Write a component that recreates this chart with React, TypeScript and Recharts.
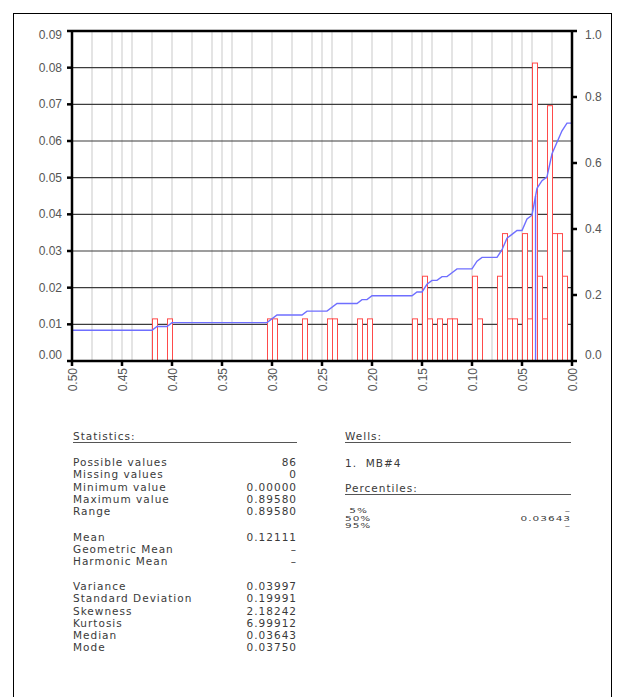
import React from 'react';
import { ComposedChart, Bar, Line, XAxis, YAxis, CartesianGrid, ReferenceLine } from 'recharts';

const POSSIBLE_VALUES = 86;
const MEDIAN = 0.03643;
const BIN_WIDTH = 0.005;

// non-empty histogram bins (lower edge) and their sample counts
const binLows = [
    0.415, 0.4, 0.3, 0.295, 0.265, 0.24, 0.235, 0.21, 0.2,
    0.155, 0.145, 0.14, 0.13, 0.12, 0.115,
    0.095, 0.09,
    0.07, 0.065, 0.06, 0.055,
    0.045, 0.04, 0.035, 0.03, 0.025, 0.02, 0.015, 0.01, 0.005,
];
const binCounts = [
    1, 1, 1, 1, 1, 1, 1, 1, 1,
    1, 2, 1, 1, 1, 1,
    2, 1,
    2, 3, 1, 1,
    3, 1, 7, 2, 1, 6, 3, 3, 2,
];

// cumulative curve: number of samples at or above each bin edge
const cumEdges = [
    0.5, 0.42, 0.415, 0.405, 0.4, 0.305, 0.295, 0.27, 0.265, 0.245, 0.235, 0.215, 0.21, 0.205, 0.2,
    0.16, 0.155, 0.15, 0.145, 0.14, 0.135, 0.13, 0.125, 0.12, 0.115, 0.1, 0.095, 0.09, 0.075, 0.07,
    0.065, 0.06, 0.055, 0.05, 0.045, 0.04, 0.035, 0.03, 0.025, 0.02, 0.015, 0.01, 0.005, 0,
];
const cumCounts = [
    8, 8, 9, 9, 10, 10, 12, 12, 13, 13, 15, 15, 16, 16, 17,
    17, 18, 18, 20, 21, 21, 22, 22, 23, 24, 24, 26, 27, 27, 29,
    32, 33, 34, 34, 37, 38, 45, 47, 48, 54, 57, 60, 62, 62,
];

const xTicks = [0, 0.05, 0.1, 0.15, 0.2, 0.25, 0.3, 0.35, 0.4, 0.45, 0.5];
const xGridValues = [
    0.02, 0.04, 0.05, 0.06, 0.08, 0.1, 0.12, 0.14, 0.15, 0.16, 0.18, 0.2, 0.22, 0.24, 0.25,
    0.26, 0.28, 0.3, 0.32, 0.34, 0.35, 0.36, 0.38, 0.4, 0.42, 0.44, 0.45, 0.46, 0.48,
];
const freqTicks = [0, 0.01, 0.02, 0.03, 0.04, 0.05, 0.06, 0.07, 0.08, 0.09];
const cumTicks = [0, 0.2, 0.4, 0.6, 0.8, 1.0];

const statsA = [
    ['Possible values', '86'],
    ['Missing values', '0'],
    ['Minimum value', '0.00000'],
    ['Maximum value', '0.89580'],
    ['Range', '0.89580'],
];
const statsB = [
    ['Mean', '0.12111'],
    ['Geometric Mean', '–'],
    ['Harmonic Mean', '–'],
];
const statsC = [
    ['Variance', '0.03997'],
    ['Standard Deviation', '0.19991'],
    ['Skewness', '2.18242'],
    ['Kurtosis', '6.99912'],
    ['Median', '0.03643'],
    ['Mode', '0.03750'],
];
const percentiles = [
    ['\u00a05%', '–'],
    ['50%', '0.03643'],
    ['95%', '–'],
];

// one row per 0.005 bin, ordered left to right (0.50 down to 0.00)
const bins = Array.from({ length: 100 }, (_, i) => {
    const lo = +((99 - i) * BIN_WIDTH).toFixed(3);
    const k = binLows.findIndex((b) => Math.abs(b - lo) < 1e-6);
    const count = k >= 0 ? binCounts[k] : 0;
    return { bin: lo.toFixed(3), freq: count / POSSIBLE_VALUES };
});

const cumData = cumEdges.map((v, i) => ({ v, share: cumCounts[i] / POSSIBLE_VALUES }));

const AXIS_FONT = '"Liberation Sans", Arial, sans-serif';
const TEXT_FONT = '"DejaVu Sans", sans-serif';
const LABEL_GREY = '#555';

const YTick = (props: any) => {
    const { x, y, payload, textAnchor, digits, top } = props;
    const v = payload.value;
    let dy = 0;
    if (v === 0) dy = -6;
    else if (Math.abs(v - top) < 1e-9) dy = 4;
    return (
        <text x={x} y={y + dy} textAnchor={textAnchor} dominantBaseline="central"
            fill={LABEL_GREY} fontSize={12} fontFamily={AXIS_FONT}>
            {v.toFixed(digits)}
        </text>
    );
};

const XTick = (props: any) => {
    const { x, y, payload } = props;
    return (
        <text transform={`translate(${x + 1},${y}) rotate(-90)`} textAnchor="end" dominantBaseline="central"
            fill={LABEL_GREY} fontSize={12} fontFamily={AXIS_FONT}>
            {payload.value.toFixed(2)}
        </text>
    );
};

const BinRect = (props: any) => {
    const { x, y, width, height } = props;
    if (!height || height <= 0) return null;
    return <rect x={x + 0.5} y={y + 0.5} width={width} height={height} fill="#fff" stroke="#ff4a4a" strokeWidth={1} />;
};

function Rows({ rows, top, left, width, lineHeight = 12.3, cellStyle = {}, style = {} }: any) {
    return (
        <div style={{ position: 'absolute', top, left, width, ...style }}>
            {rows.map(([label, value]: string[]) => (
                <div key={label} style={{ display: 'flex', justifyContent: 'space-between', alignItems: 'center', height: lineHeight, lineHeight: `${lineHeight}px`, whiteSpace: 'pre' }}>
                    <span style={cellStyle}>{label}</span>
                    <span style={cellStyle}>{value}</span>
                </div>
            ))}
        </div>
    );
}

function Heading({ text, top, left, width }: any) {
    return (
        <div style={{ position: 'absolute', top, left, width, height: 12, lineHeight: '12px', borderBottom: '1.5px solid #555' }}>
            {text}
        </div>
    );
}

export default function App() {
    return (
        <div style={{ position: 'absolute', left: 0, top: 0, width: 625, height: 697, background: '#fff', overflow: 'hidden' }}>
            <div style={{ position: 'absolute', left: 13, top: 13, width: 597, height: 700, border: '1px solid #000' }} />

            <div style={{ position: 'absolute', left: 0, top: 0 }}>
                <ComposedChart width={625} height={410} data={bins} margin={{ top: 31, right: 0, bottom: 0, left: 0 }}
                    barCategoryGap={0} barGap={0}>
                    <CartesianGrid xAxisId="val" yAxisId="freq" horizontal={false} verticalValues={xGridValues} stroke="#d2d2d2" strokeWidth={1.2} />
                    <CartesianGrid xAxisId="val" yAxisId="freq" vertical={false} stroke="#3c3c3c" strokeWidth={1.2} />
                    <XAxis xAxisId="bins" dataKey="bin" type="category" orientation="top" height={0} hide />
                    <XAxis
                        xAxisId="val"
                        dataKey="v"
                        type="number"
                        domain={[0, 0.5]}
                        reversed
                        allowDataOverflow
                        ticks={xTicks}
                        interval={0}
                        height={49}
                        tickSize={5}
                        tickMargin={2}
                        axisLine={{ stroke: '#000', strokeWidth: 2.5 }}
                        tickLine={{ stroke: '#000', strokeWidth: 2.5 }}
                        tick={<XTick />}
                    />
                    <YAxis
                        yAxisId="freq"
                        domain={[0, 0.09]}
                        ticks={freqTicks}
                        interval={0}
                        width={72}
                        tickSize={5}
                        tickMargin={5}
                        allowDataOverflow
                        axisLine={{ stroke: '#000', strokeWidth: 2.5 }}
                        tickLine={{ stroke: '#000', strokeWidth: 2.5 }}
                        tick={<YTick digits={2} top={0.09} />}
                    />
                    <YAxis
                        yAxisId="cum"
                        orientation="right"
                        domain={[0, 1]}
                        ticks={cumTicks}
                        interval={0}
                        width={53}
                        tickSize={5}
                        tickMargin={8}
                        allowDataOverflow
                        axisLine={{ stroke: '#000', strokeWidth: 2.5 }}
                        tickLine={{ stroke: '#000', strokeWidth: 2.5 }}
                        tick={<YTick digits={1} top={1} />}
                    />
                    <Bar xAxisId="bins" yAxisId="freq" dataKey="freq" shape={<BinRect />} isAnimationActive={false} />
                    <Line
                        xAxisId="val"
                        yAxisId="cum"
                        data={cumData}
                        dataKey="share"
                        type="linear"
                        dot={false}
                        stroke="#6f6fff"
                        strokeWidth={1.4}
                        isAnimationActive={false}
                    />
                    <ReferenceLine
                        xAxisId="val"
                        yAxisId="cum"
                        segment={[{ x: MEDIAN, y: 0 }, { x: MEDIAN, y: 0.5 }]}
                        stroke="#6f6fff"
                        strokeWidth={1.4}
                    />
                    <ReferenceLine xAxisId="val" yAxisId="freq" y={0.09} stroke="#000" strokeWidth={2.5} />
                </ComposedChart>
            </div>

            <div style={{ fontFamily: TEXT_FONT, fontSize: 10.5, letterSpacing: 1, color: '#3a3a3a' }}>
                <Heading text="Statistics:" top={430} left={73} width={224} />
                <Rows rows={statsA} top={456} left={73} width={224} />
                <Rows rows={statsB} top={530.5} left={73} width={224} />
                <Rows rows={statsC} top={580} left={73} width={224} />

                <Heading text="Wells:" top={430} left={345} width={226} />
                <div style={{ position: 'absolute', top: 457, left: 345, whiteSpace: 'pre', lineHeight: '12px' }}>1.  MB#4</div>
                <Heading text="Percentiles:" top={482} left={345} width={226} />
                {/* percentile rows use the same glyphs squashed vertically */}
                <Rows rows={percentiles} top={507} left={345} width={226} lineHeight={7.7}
                    cellStyle={{ display: 'inline-block', lineHeight: '12px', transform: 'scaleY(0.6)', transformOrigin: 'center' }} />
            </div>
        </div>
    );
}
